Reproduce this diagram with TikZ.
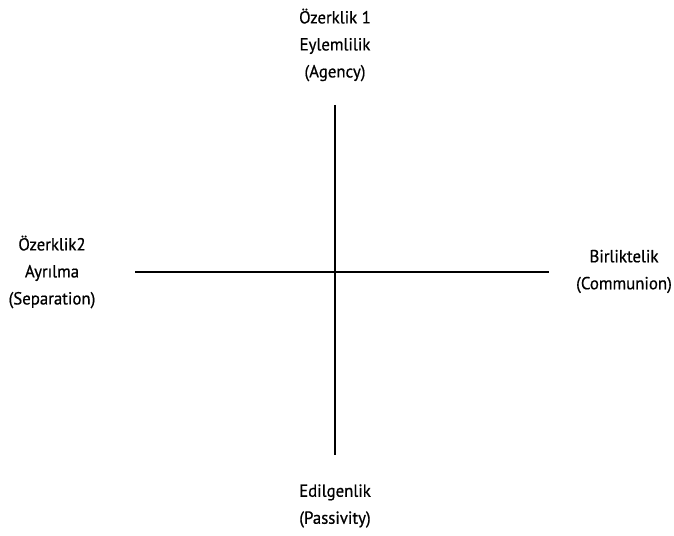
\documentclass[tikz,border=0pt]{standalone}
\usepackage{fontspec}
\setmainfont{PT Sans}[FakeStretch=0.96,FakeBold=0.6]
\begin{document}
\begin{tikzpicture}[x=1pt,y=1pt,
  lbl/.style={align=center,font=\fontsize{17.5}{27}\selectfont,inner sep=0pt},
  axis/.style={line width=1.5pt,black}]
\useasboundingbox (0,0) rectangle (674,535);
\coordinate (top) at (335,430);
\coordinate (bot) at (335,80);
\coordinate (lft) at (135,263);
\coordinate (rgt) at (549,263);
\draw[axis] (top) -- (bot);
\draw[axis] (lft) -- (rgt);
\node[lbl] (n) at (335,490) {Özerklik 1\\Eylemlilik\\(Agency)};
\node[lbl] (w) at (52,263) {Özerklik2\\Ayrılma\\(Separation)};
\node[lbl] (e) at (624,263.5) {Birliktelik\\(Communion)};
\node[lbl] (s) at (335,29) {Edilgenlik\\(Passivity)};
\end{tikzpicture}
\end{document}
